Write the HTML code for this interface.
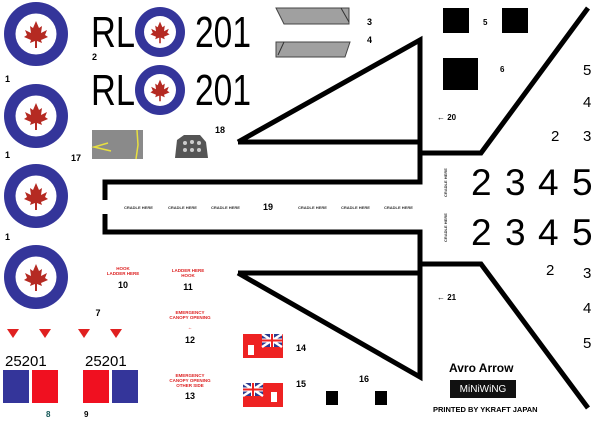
<!DOCTYPE html>
<html><head><meta charset="utf-8"><style>
html,body{margin:0;padding:0;background:#fff;width:600px;height:424px;overflow:hidden}
svg{display:block}
text{font-family:"Liberation Sans",sans-serif}
</style></head><body>
<svg width="600" height="424" viewBox="0 0 600 424" xmlns="http://www.w3.org/2000/svg">
<defs>
<g id="leaf"><path d="M0,-13 L3,-6 L6,-8 L5,-1 L11,-4 L9,1 L12,3 L5,6 L6,9 L1,7 L1,14 L-1,14 L-1,7 L-6,9 L-5,6 L-12,3 L-9,1 L-11,-4 L-5,-1 L-6,-8 L-3,-6 Z" fill="#b52a22"/></g>
<g id="round"><circle r="32" fill="#34359a"/><circle r="20.5" fill="#fff"/><use href="#leaf"/></g>
<g id="roundS"><circle r="25" fill="#34359a"/><circle r="16" fill="#fff"/><use href="#leaf" transform="scale(0.8)"/></g>
<g id="uj"><rect width="20" height="13" fill="#2b3a8f"/><path d="M0,0 L20,13 M20,0 L0,13" stroke="#fff" stroke-width="2.5"/><path d="M10,0 V13 M0,6.5 H20" stroke="#fff" stroke-width="4"/><path d="M10,0 V13 M0,6.5 H20" stroke="#e22" stroke-width="2"/></g>
</defs>
<use href="#round" x="36" y="34"/>
<use href="#round" x="36" y="116"/>
<use href="#round" x="36" y="196"/>
<use href="#round" x="36" y="277"/>
<g font-size="9" font-weight="bold"><text x="5" y="82">1</text><text x="5" y="158">1</text><text x="5" y="240">1</text></g>
<text x="91" y="47" font-size="44" textLength="44" lengthAdjust="spacingAndGlyphs">RL</text><use href="#roundS" x="160" y="32"/><text x="195" y="47" font-size="44" textLength="56" lengthAdjust="spacingAndGlyphs">201</text>
<text x="91" y="105" font-size="44" textLength="44" lengthAdjust="spacingAndGlyphs">RL</text><use href="#roundS" x="160" y="90"/><text x="195" y="105" font-size="44" textLength="56" lengthAdjust="spacingAndGlyphs">201</text>
<text x="92" y="60" font-size="9" font-weight="bold">2</text>
<path d="M276,8 H349 V24 H284 Z" fill="#a0a0a0" stroke="#444"/><path d="M341,8 L349,22" stroke="#333"/>
<path d="M276,42 H350 L345,57 H276 Z" fill="#a0a0a0" stroke="#444"/><path d="M284,42 L278,55" stroke="#333"/>
<text x="367" y="25" font-size="9" font-weight="bold">3</text><text x="367" y="43" font-size="9" font-weight="bold">4</text>
<rect x="92" y="130" width="51" height="29" fill="#8a8a8a"/><path d="M108,143 L94,147 L111,151 M137,130 L138,145 L136,159" stroke="#e8e040" stroke-width="1.5" fill="none"/>
<text x="71" y="161" font-size="9" font-weight="bold">17</text>
<path d="M175,158 L177,140 L184,135 L200,135 L206,142 L208,158 Z" fill="#555"/><g fill="#ccc"><circle cx="185" cy="143" r="2"/><circle cx="192" cy="142" r="2"/><circle cx="199" cy="143" r="2"/><circle cx="185" cy="150" r="2"/><circle cx="192" cy="150" r="2"/><circle cx="199" cy="150" r="2"/></g>
<text x="215" y="133" font-size="9" font-weight="bold">18</text>
<g fill="none" stroke="#000" stroke-width="5">
<path d="M238,142 L420,40 V182 H105 V200"/>
<path d="M238,273 L420,377 V232 H105 V214"/>
<path d="M238,142 H420 M238,273 H420"/>
<path d="M420,153 H481 L588,8"/>
<path d="M420,264 H481 L588,408"/>
</g>
<g font-size="4" font-weight="bold" fill="#333"><text x="124" y="209">CRADLE HERE</text><text x="168" y="209">CRADLE HERE</text><text x="211" y="209">CRADLE HERE</text><text x="298" y="209">CRADLE HERE</text><text x="341" y="209">CRADLE HERE</text><text x="384" y="209">CRADLE HERE</text>
<text transform="translate(447,197) rotate(-90)">CRADLE HERE</text><text transform="translate(447,242) rotate(-90)">CRADLE HERE</text></g>
<text x="263" y="210" font-size="9" font-weight="bold">19</text>
<rect x="443" y="8" width="26" height="25"/><rect x="502" y="8" width="26" height="25"/><rect x="443" y="58" width="35" height="32"/>
<text x="483" y="25" font-size="8" font-weight="bold">5</text><text x="500" y="72" font-size="8" font-weight="bold">6</text>
<text x="437" y="120" font-size="8" font-weight="bold">← 20</text><text x="437" y="300" font-size="8" font-weight="bold">← 21</text>
<g font-size="15"><text x="583" y="75">5</text><text x="583" y="107">4</text><text x="551" y="141">2</text><text x="583" y="141">3</text>
<text x="546" y="275">2</text><text x="583" y="278">3</text><text x="583" y="313">4</text><text x="583" y="348">5</text></g>
<g font-size="37"><text x="471" y="195">2</text><text x="505" y="195">3</text><text x="538" y="195">4</text><text x="572" y="195">5</text>
<text x="471" y="245">2</text><text x="505" y="245">3</text><text x="538" y="245">4</text><text x="572" y="245">5</text></g>
<g fill="#d22" font-size="4.5" font-weight="bold" text-anchor="middle"><text x="123" y="270">HOOK</text><text x="123" y="275">LADDER HERE</text>
<text x="188" y="272">LADDER HERE</text><text x="188" y="277">HOOK</text>
<text x="190" y="314">EMERGENCY</text><text x="190" y="319">CANOPY OPENING</text><text x="190" y="329">←</text>
<text x="190" y="377">EMERGENCY</text><text x="190" y="382">CANOPY OPENING</text><text x="190" y="387">OTHER SIDE</text></g>
<g font-size="9" font-weight="bold" text-anchor="middle"><text x="123" y="288">10</text><text x="188" y="290">11</text><text x="190" y="343">12</text><text x="190" y="399">13</text><text x="98" y="316">7</text><text x="364" y="382">16</text></g>
<g fill="#e02020"><path d="M7,329 H19 L13,338Z"/><path d="M39,329 H51 L45,338Z"/><path d="M78,329 H90 L84,338Z"/><path d="M110,329 H122 L116,338Z"/></g>
<text x="5" y="366" font-size="15">25201</text><text x="85" y="366" font-size="15">25201</text>
<rect x="3" y="370" width="26" height="33" fill="#34359a"/><rect x="32" y="370" width="26" height="33" fill="#f01020"/>
<rect x="83" y="370" width="26" height="33" fill="#f01020"/><rect x="112" y="370" width="26" height="33" fill="#34359a"/>
<text x="46" y="417" font-size="8" font-weight="bold" fill="#155">8</text><text x="84" y="417" font-size="8" font-weight="bold">9</text>
<rect x="243" y="334" width="40" height="24" fill="#ee2222"/><use href="#uj" x="262" y="334"/><rect x="248" y="345" width="6" height="10" fill="#fff"/>
<rect x="243" y="383" width="40" height="24" fill="#ee2222"/><use href="#uj" x="243" y="383"/><rect x="271" y="392" width="6" height="10" fill="#fff"/>
<text x="296" y="351" font-size="9" font-weight="bold">14</text><text x="296" y="387" font-size="9" font-weight="bold">15</text>
<rect x="326" y="391" width="12" height="14"/><rect x="375" y="391" width="12" height="14"/>
<text x="449" y="372" font-size="12" font-weight="bold">Avro Arrow</text>
<rect x="450" y="380" width="66" height="18" fill="#111"/><text x="483" y="392" font-size="10" font-family="Liberation Serif" fill="#fff" text-anchor="middle">MiNiWiNG</text>
<text x="433" y="412" font-size="7.5" font-weight="bold">PRINTED BY YKRAFT JAPAN</text>
</svg>
</body></html>
